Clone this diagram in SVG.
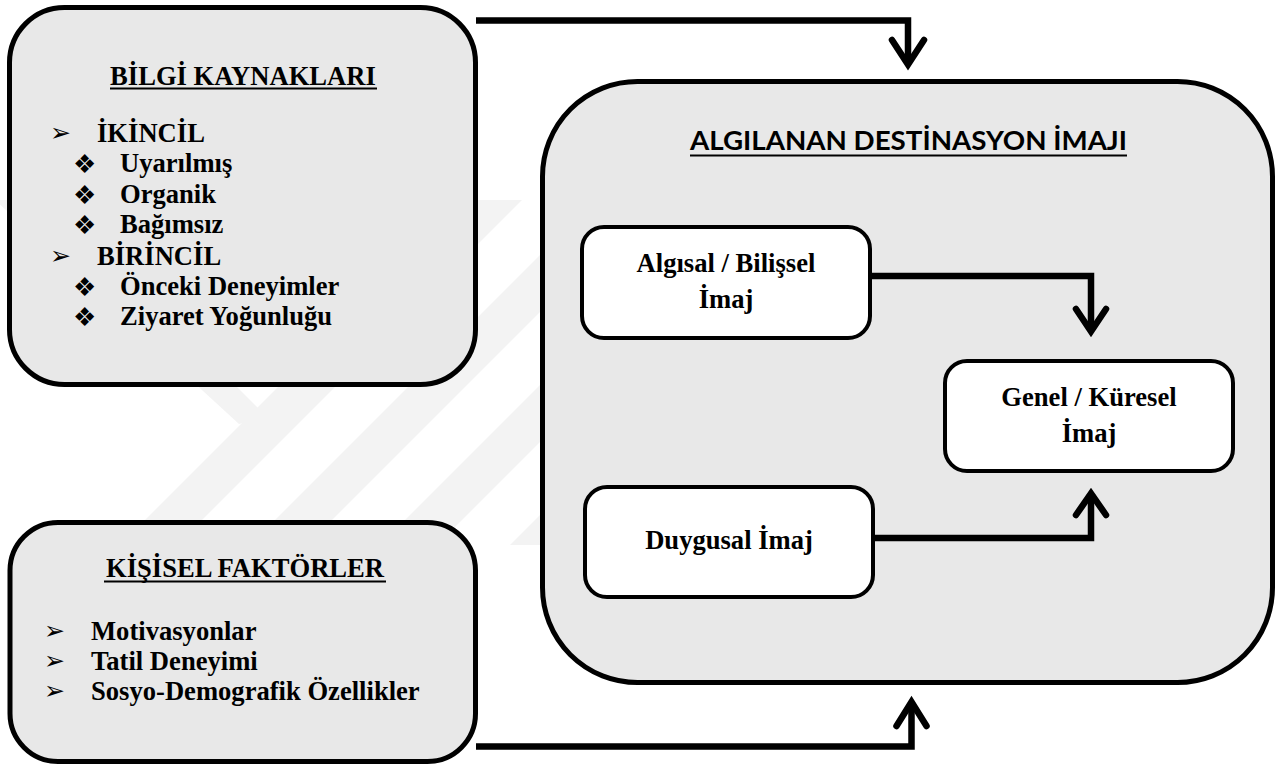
<svg xmlns="http://www.w3.org/2000/svg" width="1284" height="765" viewBox="0 0 1284 765">
  <style>
    .outer { fill: #e8e8e8; stroke: #000; stroke-width: 5; }
    .inner { fill: #ffffff; stroke: #000; stroke-width: 4; }
    .txt { font-family: "Liberation Serif", "Times New Roman", serif; font-weight: bold; font-size: 26.6px; fill: #000; }
    .mid { text-anchor: middle; }
    .arr { font-family: "DejaVu Sans", sans-serif; font-size: 25px; fill: #000; }
    .dia { font-family: "DejaVu Sans", sans-serif; font-size: 26px; fill: #000; }
    .title { font-family: Lato, "Liberation Sans", sans-serif; font-weight: bold; font-size: 27px; fill: #000; }
    .ul { stroke: #000; stroke-width: 2.2; }
    .wire { fill: none; stroke: #000; stroke-width: 6.5; }
    .head { fill: none; stroke: #000; stroke-width: 6.5; stroke-linecap: round; stroke-linejoin: miter; stroke-miterlimit: 10; }
  </style>
  <defs>
    <clipPath id="wmClip">
      <rect x="0" y="200" width="1284" height="345"/>
    </clipPath>
  </defs>

  <rect width="1284" height="765" fill="#ffffff"/>

  <!-- faint background emblem: slanted bands -->
  <g id="watermark" fill="#f3f3f3" clip-path="url(#wmClip)">
    <polygon points="665,0 722,0 -100,822 -157,822"/>
    <polygon points="795,0 852,0 30,822 -27,822"/>
    <polygon points="925,0 982,0 160,822 103,822"/>
    <polygon points="1055,0 1112,0 290,822 233,822"/>
    <polygon points="-5,200 50,200 267,417 239,424"/>
  </g>

  <!-- information sources -->
  <g id="bilgi-kaynaklari">
    <rect class="outer" x="9.5" y="7.5" width="466" height="377" rx="55" ry="55"/>
    <text class="txt mid" x="243" y="85">BİLGİ KAYNAKLARI</text>
    <line class="ul" x1="110" y1="88.5" x2="377" y2="88.5"/>
    <text class="arr" x="50" y="141">➢</text>
    <text class="txt" x="97" y="142">İKİNCİL</text>
    <text class="dia" x="73" y="173">❖</text>
    <text class="txt" x="120" y="172">Uyarılmış</text>
    <text class="dia" x="73" y="204">❖</text>
    <text class="txt" x="120" y="203">Organik</text>
    <text class="dia" x="73" y="234">❖</text>
    <text class="txt" x="120" y="233">Bağımsız</text>
    <text class="arr" x="50" y="264">➢</text>
    <text class="txt" x="97" y="265">BİRİNCİL</text>
    <text class="dia" x="73" y="296">❖</text>
    <text class="txt" x="120" y="295">Önceki Deneyimler</text>
    <text class="dia" x="73" y="326">❖</text>
    <text class="txt" x="120" y="325">Ziyaret Yoğunluğu</text>
  </g>

  <!-- personal factors -->
  <g id="kisisel-faktorler">
    <rect class="outer" x="10" y="522.5" width="465.5" height="239" rx="48" ry="48"/>
    <text class="txt mid" x="245" y="577">KİŞİSEL FAKTÖRLER</text>
    <line class="ul" x1="104" y1="581.5" x2="386" y2="581.5"/>
    <text class="arr" x="44" y="639">➢</text>
    <text class="txt" x="91" y="640">Motivasyonlar</text>
    <text class="arr" x="44" y="669">➢</text>
    <text class="txt" x="91" y="670">Tatil Deneyimi</text>
    <text class="arr" x="44" y="699">➢</text>
    <text class="txt" x="91" y="700">Sosyo-Demografik Özellikler</text>
  </g>

  <!-- perceived destination image container -->
  <g id="algilanan-imaj">
    <rect class="outer" x="542.5" y="81.5" width="730" height="601" rx="95" ry="95"/>
    <text class="title" x="690" y="150" textLength="437" lengthAdjust="spacingAndGlyphs">ALGILANAN DESTİNASYON İMAJI</text>
    <line class="ul" x1="690" y1="155.5" x2="1127" y2="155.5"/>
  </g>

  <g id="bilissel-imaj">
    <rect class="inner" x="582" y="227" width="288" height="111" rx="22" ry="22"/>
    <text class="txt mid" x="726" y="272">Algısal / Bilişsel</text>
    <text class="txt mid" x="726" y="308">İmaj</text>
  </g>

  <g id="duygusal-imaj">
    <rect class="inner" x="585" y="487" width="288" height="110" rx="22" ry="22"/>
    <text class="txt mid" x="729" y="549">Duygusal İmaj</text>
  </g>

  <g id="genel-imaj">
    <rect class="inner" x="945" y="361" width="288" height="110" rx="22" ry="22"/>
    <text class="txt mid" x="1089" y="406">Genel / Küresel</text>
    <text class="txt mid" x="1089" y="442">İmaj</text>
  </g>

  <!-- connectors -->
  <g id="connectors">
    <path class="wire" d="M476,20.5 H908 V62"/>
    <path class="head" d="M892,40 L908,64.5 L924,40"/>

    <path class="wire" d="M476,746.5 H911.5 V702"/>
    <path class="head" d="M896.5,726 L911.5,702 L926.5,726"/>

    <path class="wire" d="M870,276 H1091 V330"/>
    <path class="head" d="M1076,309 L1091,331.5 L1106,309"/>

    <path class="wire" d="M873,538 H1091 V496"/>
    <path class="head" d="M1076,515 L1091,493.5 L1106,515"/>
  </g>
</svg>
